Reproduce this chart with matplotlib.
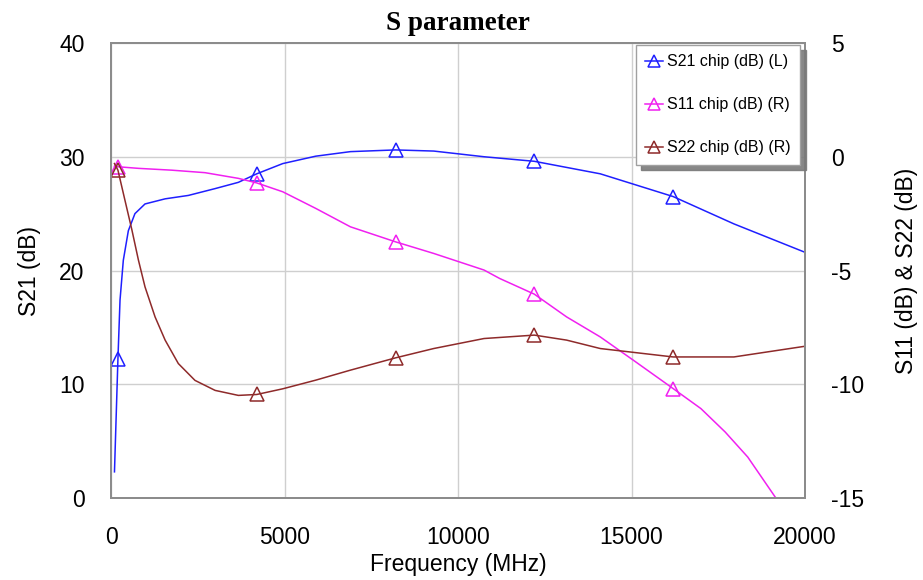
import matplotlib
matplotlib.use('Agg')
import matplotlib.pyplot as plt

# ---------------- data ----------------
freq_s21 = [100, 200, 260, 355, 500, 690, 980, 1560, 2230, 3000, 3670, 4200,
            4950, 5900, 6900, 8200, 9300, 10750, 12200, 14100, 16200, 17950, 20000]
s21_db = [2.3, 12.25, 17.4, 20.9, 23.5, 25.0, 25.85, 26.3, 26.6, 27.2, 27.75, 28.5,
          29.4, 30.05, 30.45, 30.6, 30.5, 30.0, 29.6, 28.5, 26.5, 24.1, 21.6]

freq_s11 = [100, 200, 790, 1750, 2710, 3670, 4200, 4950, 5900, 6900, 8200, 9300,
            10750, 11200, 12200, 13130, 14100, 15050, 16200, 17000, 17700, 18350, 19160, 19500]
s11_db = [-0.42, -0.44, -0.51, -0.59, -0.7, -0.95, -1.15, -1.54, -2.27, -3.08, -3.74, -4.25,
          -4.98, -5.35, -6.04, -7.04, -7.92, -8.94, -10.19, -11.07, -12.1, -13.2, -15.0, -15.7]

freq_s22 = [100, 200, 400, 600, 790, 980, 1270, 1560, 1940, 2420, 3000, 3670, 4200, 4950,
            5900, 6900, 8200, 9300, 10750, 12200, 13130, 14100, 16200, 17950, 20000]
s22_db = [-0.3, -0.59, -1.9, -3.2, -4.54, -5.72, -7.04, -8.06, -9.09, -9.83, -10.27, -10.49,
          -10.45, -10.2, -9.82, -9.38, -8.84, -8.43, -7.99, -7.84, -8.06, -8.43, -8.8, -8.8, -8.33]

marker_freqs = [200, 4200, 8200, 12200, 16200]

series_labels = ["S21 chip (dB) (L)", "S11 chip (dB) (R)", "S22 chip (dB) (R)"]
x_ticks = [0, 5000, 10000, 15000, 20000]
left_ticks = [0, 10, 20, 30, 40]
right_ticks = [-15, -10, -5, 0, 5]

# ---------------- style ----------------
plt.rcParams['font.family'] = ['Liberation Sans', 'DejaVu Sans']
plt.rcParams['axes.unicode_minus'] = False

c_s21 = '#1f1fff'
c_s11 = '#f020f0'
c_s22 = '#8e2a2a'
spine_c = '#8c8c8c'
grid_c = '#cfcfcf'
fs = 16.5

fig = plt.figure(figsize=(9.23, 5.8), dpi=100)
ax = fig.add_axes([111 / 923, (580 - 498) / 580, 694 / 923, 455 / 580])
ax2 = ax.twinx()


def mark_idx(freqs):
    return [i for i, f in enumerate(freqs) if f in marker_freqs]


common = dict(lw=1.1, marker='^', markersize=10, mfc='none', mew=1.1)
l1, = ax.plot(freq_s21, s21_db, color=c_s21, markevery=mark_idx(freq_s21),
              label=series_labels[0], **common)
l2, = ax2.plot(freq_s11, s11_db, color=c_s11, markevery=mark_idx(freq_s11),
               label=series_labels[1], **common)
l3, = ax2.plot(freq_s22, s22_db, color=c_s22, markevery=mark_idx(freq_s22),
               label=series_labels[2], **common)

ax.set_xlim(0, 20000)
ax.set_ylim(0, 40)
ax2.set_ylim(-15, 5)
ax.set_xticks(x_ticks)
ax.set_xticklabels([str(v) for v in x_ticks])
ax.set_yticks(left_ticks)
ax2.set_yticks(right_ticks)
ax2.set_yticklabels([str(v) for v in right_ticks])

ax.grid(True, color=grid_c, lw=1.0)
ax.set_axisbelow(True)

for a in (ax, ax2):
    for s in a.spines.values():
        s.set_color(spine_c)
        s.set_linewidth(1.4)
ax.tick_params(axis='y', length=0, pad=19, labelsize=fs)
ax.tick_params(axis='x', length=0, pad=20, labelsize=fs)
ax2.tick_params(axis='y', length=0, pad=19, labelsize=fs)

ax.set_xlabel('Frequency (MHz)', fontsize=fs, labelpad=3)
ax.set_ylabel('S21 (dB)', fontsize=fs, labelpad=13)
ax2.set_ylabel('S11 (dB) & S22 (dB)', fontsize=fs, labelpad=22)
ax.set_title('S parameter', fontsize=19.5, fontweight='bold',
             family=['Liberation Serif', 'DejaVu Serif'], pad=9)

leg = ax2.legend(handles=[l1, l2, l3], loc='upper right',
                 bbox_to_anchor=(0.993, 0.996), fontsize=11.5,
                 frameon=True, fancybox=False, framealpha=1,
                 edgecolor='#a0a0a0', labelspacing=1.75, borderpad=0.6,
                 handlelength=1.1, handletextpad=0.25, borderaxespad=0,
                 shadow={'ox': 4, 'oy': -4, 'facecolor': '#7a7a7a',
                         'edgecolor': '#7a7a7a', 'alpha': 0.9})
leg.get_frame().set_linewidth(1.0)
for h in leg.legend_handles:
    h.set_markersize(9)

fig.savefig('out.png', dpi=100)
